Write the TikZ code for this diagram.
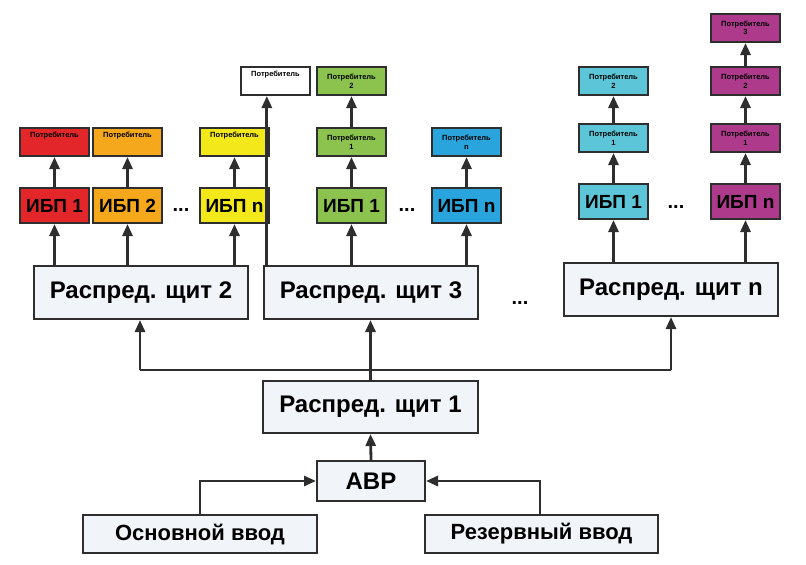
\documentclass[tikz,border=0pt]{standalone}
\usepackage{fontspec}
\setmainfont{Liberation Sans}
\usetikzlibrary{arrows.meta}
\definecolor{cred}{HTML}{E3262A}
\definecolor{corange}{HTML}{F5A81C}
\definecolor{cyellow}{HTML}{F2E81A}
\definecolor{cgreen}{HTML}{8CC34E}
\definecolor{cblue}{HTML}{29A4DC}
\definecolor{ccyan}{HTML}{5CC6D8}
\definecolor{cmag}{HTML}{AE3A8C}
\definecolor{bord}{HTML}{2E2E2E}
\definecolor{shf}{HTML}{F1F4F9}
\begin{document}
\begin{tikzpicture}[x=1pt,y=-1pt,
  bx/.style={draw=bord,line width=2pt,inner sep=0pt,anchor=north west},
  cons/.style={bx,minimum width=69pt,minimum height=28pt,font=\bfseries\fontsize{7.5}{8.5}\selectfont,align=center},
  ibp/.style={bx,minimum width=69pt,minimum height=35pt,font=\bfseries\fontsize{19}{20}\selectfont},
  sh/.style={bx,fill=shf,minimum width=214pt,minimum height=53pt,font=\bfseries\fontsize{24}{25}\selectfont},
  inp/.style={bx,fill=shf,minimum width=234pt,minimum height=38pt,font=\bfseries\fontsize{22}{23}\selectfont},
  ar/.style={line width=2.8pt,draw=bord,-{Triangle[length=12pt,width=10pt]}},
  ln/.style={line width=2.8pt,draw=bord},
  dots/.style={font=\bfseries\fontsize{20}{20}\selectfont}]
\useasboundingbox (0,0) rectangle (806,565);
% consumers
\node[cons,fill=cred] (c1) at (19,127) {Потребитель\\[6pt]};
\node[cons,fill=corange] (c2) at (92,127) {Потребитель\\[6pt]};
\node[cons,fill=cyellow] (c3) at (199,127) {Потребитель\\[6pt]};
\node[cons,fill=white] (cw) at (240,66) {Потребитель\\[6pt]};
\node[cons,fill=cgreen] (g2) at (316,66) {Потребитель\\2};
\node[cons,fill=cgreen] (g1) at (316,127) {Потребитель\\1};
\node[cons,fill=cblue] (bn) at (431,127) {Потребитель\\n};
\node[cons,fill=ccyan] (y2) at (578,66) {Потребитель\\2};
\node[cons,fill=ccyan] (y1) at (578,123) {Потребитель\\1};
\node[cons,fill=cmag] (m3) at (710,13) {Потребитель\\3};
\node[cons,fill=cmag] (m2) at (710,66) {Потребитель\\2};
\node[cons,fill=cmag] (m1) at (710,123) {Потребитель\\1};
% UPS
\node[ibp,fill=cred] (i1) at (19,187) {ИБП 1};
\node[ibp,fill=corange] (i2) at (92,187) {ИБП 2};
\node[ibp,fill=cyellow] (i3) at (199,187) {ИБП n};
\node[ibp,fill=cgreen] (ig) at (316,187) {ИБП 1};
\node[ibp,fill=cblue] (ib) at (431,187) {ИБП n};
\node[ibp,fill=ccyan] (iy) at (578,183) {ИБП 1};
\node[ibp,fill=cmag] (im) at (710,183) {ИБП n};
\node[dots] (d1) at (181,210) {...};
\node[dots] (d2) at (407,210) {...};
\node[dots] (d3) at (676,207) {...};
\node[dots] (d4) at (520,303) {...};
% shields
\node[sh] (s2) at (33,265) {Распред. щит 2};
\node[sh] (s3) at (263,265) {Распред. щит 3};
\node[sh] (sn) at (563,262) {Распред. щит n};
\node[sh,minimum width=215pt,minimum height=52pt] (s1) at (262,380) {Распред. щит 1};
\node[sh,minimum width=108pt,minimum height=40pt] (avr) at (316,460) {АВР};
\node[inp] (osn) at (82,514) {Основной ввод};
\node[inp,minimum width=233pt] (rez) at (424,514) {Резервный ввод};
% arrows consumer/ups
\foreach \a/\b in {i1/c1,i2/c2,i3/c3,ig/g1,g1/g2,ib/bn,iy/y1,y1/y2,im/m1,m1/m2,m2/m3}
  \draw[ar] (\a.north) -- (\b.south);
\foreach \b in {i1,i2,i3}
  \draw[ar] (s2.north -| \b) -- (\b.south);
\foreach \b in {ig,ib}
  \draw[ar] (s3.north -| \b) -- (\b.south);
\foreach \b in {iy,im}
  \draw[ar] (sn.north -| \b) -- (\b.south);
\draw[ar] (s3.north -| cw.240) -- (cw.240 |- cw.south);
% bus
\coordinate (bl) at (140,370);
\coordinate (br) at (671,370);
\draw[ln] (bl) -- (br);
\draw[ar] (bl) -- (bl |- s2.south);
\draw[ar] (br) -- (br |- sn.south);
\draw[ar] (s1.north) -- (s3.south -| s1.north);
\draw[ar] (avr.north) -- (s1.south);
\coordinate (ol) at (200,481);
\coordinate (or) at (540,481);
\draw[ar] (osn.north -| ol) -- (ol) -- (avr.west);
\draw[ar] (rez.north -| or) -- (or) -- (avr.east);
\end{tikzpicture}
\end{document}
